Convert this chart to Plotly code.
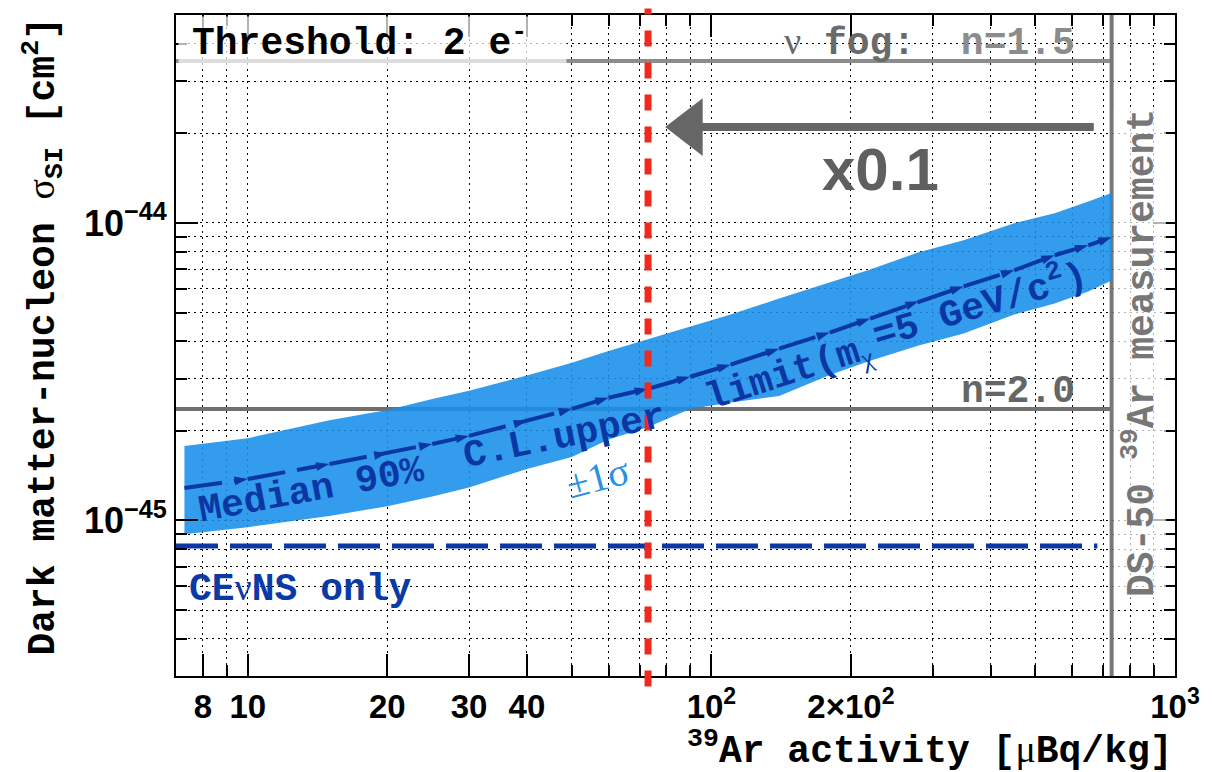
import numpy as np
import plotly.graph_objects as go

# 39Ar activity [uBq/kg] at which the sensitivity was evaluated
activity = [7.3, 10, 15, 20, 25, 30, 40, 50, 60, 73, 90, 110, 140, 180,
            220, 280, 350, 450, 550, 650, 730]
# Median 90% C.L. upper limit on sigma_SI [cm^2] (m_chi = 5 GeV/c^2)
median_limit = [1.285e-45, 1.378e-45, 1.548e-45, 1.686e-45, 1.808e-45,
                1.924e-45, 2.162e-45, 2.372e-45, 2.584e-45, 2.771e-45,
                3.04e-45, 3.34e-45, 3.78e-45, 4.28e-45, 4.77e-45, 5.45e-45,
                6.12e-45, 6.93e-45, 7.79e-45, 8.41e-45, 8.95e-45]
# +/- 1 sigma band
band_upper = [1.78e-45, 1.89e-45, 2.17e-45, 2.35e-45, 2.56e-45, 2.73e-45,
              3.07e-45, 3.39e-45, 3.71e-45, 4.06e-45, 4.48e-45, 4.92e-45,
              5.57e-45, 6.31e-45, 6.98e-45, 7.97e-45, 8.74e-45, 9.98e-45,
              1.078e-44, 1.18e-44, 1.26e-44]
band_lower = [8.99e-46, 9.49e-46, 1.034e-45, 1.117e-45, 1.203e-45, 1.29e-45,
              1.49e-45, 1.634e-45, 1.87e-45, 2.063e-45, 2.37e-45, 2.49e-45,
              2.62e-45, 3.08e-45, 3.44e-45, 3.87e-45, 4.25e-45, 4.92e-45,
              5.36e-45, 5.88e-45, 6.41e-45]

# reference levels
ds50_activity = 730          # DS-50 39Ar measurement
reduced_activity = 73        # x0.1 reduction
fog_n15 = 3.5e-44            # neutrino fog, n = 1.5
fog_n20 = 2.37e-45           # neutrino fog, n = 2.0
cevns_only = 8.2e-46         # CEvNS-only limit
cevns_span = [7, 680]
arrow_span = [668, 90]
arrow_level = 2.1e-44

x_range = [7, 1000]
y_range = [3e-46, 5e-44]

x_major = [8, 10, 20, 30, 40, 100, 200, 1000]
x_major_text = ["8", "10", "20", "30", "40", "10<sup>2</sup>",
                "2\u00d710<sup>2</sup>", "10<sup>3</sup>"]
x_minor = [9, 50, 60, 70, 80, 90, 300, 400, 500, 600, 700, 800, 900]
y_major = [1e-45, 1e-44]
y_major_text = ["10<sup>\u221245</sup>", "10<sup>\u221244</sup>"]
y_minor = [3e-46, 4e-46, 5e-46, 6e-46, 7e-46, 8e-46, 9e-46,
           2e-45, 3e-45, 4e-45, 5e-45, 6e-45, 7e-45, 8e-45, 9e-45,
           2e-44, 3e-44, 4e-44]

MONO = "Liberation Mono, Courier New, monospace"
SANS = "Liberation Sans, Arial, sans-serif"
SERIF = "Liberation Serif, Times New Roman, serif"

GRAY_LIGHT = "#8c8c8c"
GRAY = "#707070"
BAND = "rgba(23,142,233,0.88)"
DARK_BLUE = "#0a37a3"
RED = "#ee2a1e"

fig = go.Figure()

# neutrino-fog levels and DS-50 measurement
fig.add_trace(go.Scatter(x=[x_range[0], ds50_activity], y=[fog_n15, fog_n15],
                         mode="lines", line=dict(color=GRAY_LIGHT, width=4)))
fig.add_trace(go.Scatter(x=[x_range[0], ds50_activity], y=[fog_n20, fog_n20],
                         mode="lines", line=dict(color=GRAY, width=4)))
fig.add_trace(go.Scatter(x=[ds50_activity, ds50_activity], y=y_range,
                         mode="lines", line=dict(color="#777777", width=4)))

# +/- 1 sigma band
fig.add_trace(go.Scatter(x=activity + activity[::-1],
                         y=band_upper + band_lower[::-1],
                         mode="lines", fill="toself", fillcolor=BAND,
                         line=dict(width=0)))

# median limit
fig.add_trace(go.Scatter(x=activity, y=median_limit, mode="lines+markers",
                         line=dict(color=DARK_BLUE, width=4, dash="38px,12px"),
                         marker=dict(symbol="arrow", size=14, color=DARK_BLUE,
                                     angleref="previous")))

# CEvNS-only limit
fig.add_trace(go.Scatter(x=cevns_span, y=[cevns_only, cevns_only], mode="lines",
                         line=dict(color=DARK_BLUE, width=5, dash="42px,12px")))

# x0.1 arrow
fig.add_trace(go.Scatter(x=arrow_span, y=[arrow_level, arrow_level], mode="lines",
                         line=dict(color="#666666", width=8)))
fig.add_trace(go.Scatter(x=[arrow_span[1]], y=[arrow_level], mode="markers",
                         marker=dict(symbol="triangle-left", size=50,
                                     color="#666666")))

# reduced-activity marker line
fig.add_shape(type="line", xref="x", yref="paper",
              x0=reduced_activity, x1=reduced_activity, y0=-0.016, y1=1.01,
              line=dict(color=RED, width=7, dash="16px,16px"), layer="above")

axis_common = dict(
    type="log", showline=True, linecolor="black", linewidth=2, mirror="ticks",
    ticks="inside", ticklen=22, tickwidth=2, tickcolor="black",
    showgrid=True, gridcolor="black", gridwidth=1, griddash="2px,4px",
    zeroline=False, tickmode="array",
)
minor_common = dict(tickmode="array", ticks="inside", ticklen=11,
                    tickwidth=1.5, tickcolor="black", showgrid=True,
                    gridcolor="black", gridwidth=1, griddash="2px,4px")

fig.update_xaxes(**axis_common,
                 range=[np.log10(x_range[0]), np.log10(x_range[1])],
                 tickvals=x_major, ticktext=x_major_text,
                 tickfont=dict(family=SANS, size=33, color="black", weight="bold"),
                 minor=dict(tickvals=x_minor, **minor_common))
fig.update_yaxes(**axis_common,
                 range=[np.log10(y_range[0]), np.log10(y_range[1])],
                 tickvals=y_major, ticktext=y_major_text,
                 tickfont=dict(family=SANS, size=36, color="black", weight="bold"),
                 minor=dict(tickvals=y_minor, **minor_common))

label_bg = "rgba(255,255,255,0.7)"
SERIF_SPAN = "<span style='font-family:Liberation Serif;font-weight:normal'>%s</span>"


def mono_bold(size, color):
    return dict(family=MONO, size=size, color=color, weight="bold")


def curve_label(text, x, y, angle):
    # one run of the median-limit label, following the curve
    return dict(xref="x", yref="y", x=np.log10(x), y=np.log10(y),
                xanchor="center", yanchor="middle", textangle=angle,
                text=text, font=mono_bold(38, DARK_BLUE), showarrow=False)


annotations = [
    dict(xref="paper", yref="paper", x=0, y=1, xanchor="left", yanchor="top",
         xshift=2, yshift=-1, width=385, height=46, align="left",
         text="<span style='font-size:20px'> </span>Threshold: 2 e<sup>-</sup>",
         font=mono_bold(38, "black"), bgcolor=label_bg, showarrow=False),
    dict(xref="x", yref="y", x=np.log10(614), y=np.log10(4.04e-44),
         xanchor="right", yanchor="middle",
         text=(SERIF_SPAN % "\u03bd")
         + " fog:  <span style='color:%s'>n=1.5</span>" % GRAY_LIGHT,
         font=mono_bold(38, "#6a6a6a"), showarrow=False),
    dict(xref="x", yref="y", x=np.log10(232), y=np.log10(1.51e-44),
         xanchor="center", yanchor="middle", text="x0.1",
         font=dict(family=SANS, size=60, color="#5f5f5f", weight="bold"),
         showarrow=False),
    dict(xref="x", yref="y", x=np.log10(614), y=np.log10(2.71e-45),
         xanchor="right", yanchor="middle", text="n=2.0",
         font=mono_bold(38, "#666666"), showarrow=False),
    dict(xref="x", yref="y", x=np.log10(841), y=np.log10(3.66e-45),
         xanchor="center", yanchor="middle", textangle=-90, bgcolor=label_bg,
         text="DS-50 <sup>39</sup>Ar measurement",
         font=mono_bold(38, "#777777"), showarrow=False),
    dict(xref="x", yref="y", x=np.log10(7.41), y=np.log10(5.91e-46),
         xanchor="left", yanchor="middle",
         text="CE" + (SERIF_SPAN % "\u03bd") + "NS only",
         font=mono_bold(38, "#0b3aa6"), showarrow=False),
    dict(xref="x", yref="y", x=np.log10(56.9), y=np.log10(1.39e-45),
         xanchor="center", yanchor="middle", textangle=-15, text="\u00b11\u03c3",
         font=dict(family=SERIF, size=40, color="#2a90e6"), showarrow=False),
    curve_label("Median 90%", 13.67, 1.265e-45, -10.5),
    curve_label("C.L.upper", 48.1, 1.909e-45, -11.5),
    curve_label("limit(m<sub>" + (SERIF_SPAN % "\u03c7") + "</sub>",
                146.7, 3.09e-45, -18),
    curve_label("=5 GeV/c<sup>2</sup>)", 378.5, 5.36e-45, -16.5),
    dict(xref="paper", yref="paper", x=(42 - 176) / 1004, y=0.513,
         xanchor="center", yanchor="middle", textangle=-90,
         text="Dark matter-nucleon " + (SERIF_SPAN % "\u03c3")
         + "<sub>SI</sub> [cm<sup>2</sup>]",
         font=mono_bold(38, "black"), showarrow=False),
    dict(xref="paper", yref="paper", x=1.0, y=-0.11,
         xanchor="right", yanchor="middle",
         text="<sup>39</sup>Ar activity [" + (SERIF_SPAN % "\u03bc") + "Bq/kg]",
         font=mono_bold(38, "black"), showarrow=False),
]

fig.update_layout(
    width=1212, height=772,
    margin=dict(l=176, r=32, t=15, b=96),
    plot_bgcolor="white", paper_bgcolor="white",
    showlegend=False,
    annotations=annotations,
)

fig.write_html("out.html")
